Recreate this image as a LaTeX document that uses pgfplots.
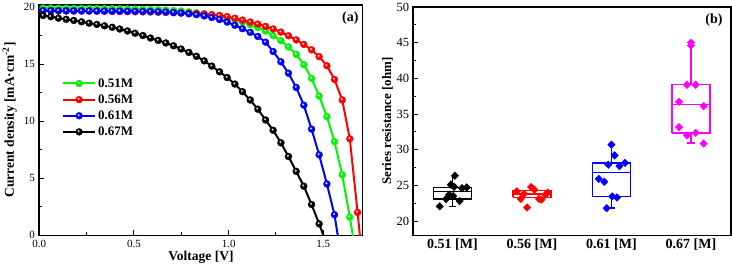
\documentclass[border=0pt]{standalone}
\usepackage{pgfplots}
\pgfplotsset{compat=1.18}
\usepackage{fontspec}
\setmainfont{Liberation Serif}
\definecolor{cgreen}{RGB}{0,245,0}
\definecolor{cred}{RGB}{255,0,0}
\definecolor{cblue}{RGB}{0,0,255}
\definecolor{cmag}{RGB}{255,0,255}
\pgfdeclareplotmark{hball}{%
  \pgfpathcircle{\pgfpointorigin}{\pgfplotmarksize}%
  \pgfusepathqfillstroke
  \begin{pgfscope}%
  \pgfsetfillcolor{white}%
  \pgfsetfillopacity{0.85}%
  \pgfpathcircle{\pgfpoint{-0.15\pgfplotmarksize}{0.2\pgfplotmarksize}}{0.33\pgfplotmarksize}%
  \pgfusepathqfill
  \end{pgfscope}%
}
\begin{document}
\begin{tikzpicture}
\path[use as bounding box] (-39.3pt,-33.7pt) rectangle (692.7pt,235.3pt);
\begin{axis}[
  at={(0pt,0pt)}, anchor=south west, scale only axis,
  width=323.4pt, height=230.6pt,
  xmin=0, xmax=1.708, ymin=0, ymax=20.2,
  xtick={0,0.5,1,1.5}, ytick={0,5,10,15,20},
  minor x tick num=1, minor y tick num=1,
  xtick pos=bottom, ytick pos=left, tick align=inside,
  major tick length=5pt, minor tick length=3pt,
  every tick/.style={black, line width=1pt},
  axis line style={line width=1.6pt},
  clip marker paths=true,
  /pgf/number format/assume math mode=true,
  xticklabel style={/pgf/number format/fixed, /pgf/number format/fixed zerofill, /pgf/number format/precision=1, yshift=-1.5pt},
  yticklabel style={xshift=-1pt},
  tick label style={font=\fontsize{11}{13}\selectfont},
  label style={font=\bfseries\fontsize{13.5}{15}\selectfont},
  xlabel={Voltage [V]},
  ylabel={Current density [mA·cm\textsuperscript{-2}]},
  xlabel shift=-3.5pt,
  legend style={draw=none, fill=none, at={(0.07,0.69)}, anchor=north west,
    font=\bfseries\fontsize{13}{15}\selectfont, row sep=2pt, inner sep=0pt},
  legend cell align=left,
  legend image code/.code={\draw[mark repeat=2,mark phase=2,#1] plot coordinates {(0pt,0pt) (16pt,0pt) (32pt,0pt)};},
  every axis plot/.append style={line width=2pt, mark=hball, mark size=3.5pt, mark options={line width=0.3pt}},
]
\addplot[cgreen] coordinates {
(0.020,19.90) (0.061,19.90) (0.101,19.89) (0.142,19.89) (0.182,19.88) (0.223,19.88) (0.263,19.87) (0.304,19.87) (0.344,19.86) (0.385,19.85)
(0.425,19.84) (0.466,19.83) (0.506,19.82) (0.547,19.80) (0.587,19.78) (0.628,19.76) (0.668,19.73) (0.709,19.69) (0.749,19.64) (0.790,19.58)
(0.830,19.50) (0.871,19.42) (0.911,19.32) (0.952,19.20) (0.992,19.05) (1.033,18.88) (1.073,18.68) (1.114,18.45) (1.154,18.20) (1.195,17.90)
(1.235,17.50) (1.276,17.05) (1.316,16.50) (1.357,15.85) (1.397,14.95) (1.438,13.75) (1.478,12.20) (1.519,10.40) (1.559,8.20) (1.600,5.30)
(1.640,1.60) (1.681,-2.50)};
\addlegendentry{0.51M}
\addplot[cred] coordinates {
(0.020,19.66) (0.061,19.66) (0.101,19.65) (0.142,19.65) (0.182,19.64) (0.223,19.64) (0.263,19.63) (0.304,19.63) (0.344,19.62) (0.385,19.61)
(0.425,19.60) (0.466,19.59) (0.506,19.58) (0.547,19.57) (0.587,19.56) (0.628,19.54) (0.668,19.52) (0.709,19.50) (0.749,19.48) (0.790,19.45)
(0.830,19.42) (0.871,19.38) (0.911,19.33) (0.952,19.26) (0.992,19.16) (1.033,19.02) (1.073,18.85) (1.114,18.68) (1.154,18.50) (1.195,18.30)
(1.235,18.08) (1.276,17.80) (1.316,17.48) (1.357,17.12) (1.397,16.72) (1.438,16.25) (1.478,15.65) (1.519,14.85) (1.559,13.65) (1.600,11.85)
(1.640,8.45) (1.681,2.00) (1.721,-4.50)};
\addlegendentry{0.56M}
\addplot[cblue] coordinates {
(0.020,19.68) (0.061,19.68) (0.101,19.67) (0.142,19.67) (0.182,19.67) (0.223,19.66) (0.263,19.66) (0.304,19.65) (0.344,19.65) (0.385,19.64)
(0.425,19.64) (0.466,19.63) (0.506,19.62) (0.547,19.61) (0.587,19.60) (0.628,19.58) (0.668,19.56) (0.709,19.52) (0.749,19.47) (0.790,19.40)
(0.830,19.32) (0.871,19.22) (0.911,19.08) (0.952,18.90) (0.992,18.68) (1.033,18.40) (1.073,18.10) (1.114,17.78) (1.154,17.42) (1.195,16.92)
(1.235,16.10) (1.276,15.20) (1.316,14.20) (1.357,12.95) (1.397,11.40) (1.438,9.30) (1.478,7.05) (1.519,4.50) (1.559,1.80) (1.600,-2.50)};
\addlegendentry{0.61M}
\addplot[black] coordinates {
(0.020,19.25) (0.061,19.15) (0.101,19.02) (0.142,18.92) (0.182,18.82) (0.223,18.70) (0.263,18.58) (0.304,18.47) (0.344,18.35) (0.385,18.22)
(0.425,18.07) (0.466,17.90) (0.506,17.70) (0.547,17.50) (0.587,17.28) (0.628,17.07) (0.668,16.85) (0.709,16.60) (0.749,16.32) (0.790,16.02)
(0.830,15.68) (0.871,15.28) (0.911,14.82) (0.952,14.32) (0.992,13.82) (1.033,13.25) (1.073,12.58) (1.114,11.85) (1.154,11.05) (1.195,10.10)
(1.235,9.20) (1.276,8.10) (1.316,6.90) (1.357,5.60) (1.397,4.30) (1.438,2.70) (1.478,1.00) (1.519,-0.80)};
\addlegendentry{0.67M}
\node[anchor=north east, inner sep=0pt, font=\bfseries\fontsize{14}{16}\selectfont] at (rel axis cs:1,1) [xshift=-4pt, yshift=-7pt] {(a)};
\end{axis}
\begin{axis}[
  at={(373.4pt,0pt)}, anchor=south west, scale only axis,
  width=318pt, height=228.3pt,
  xmin=0.5, xmax=4.5, ymin=18, ymax=50,
  xtick={1,2,3,4},
  xticklabels={0.51 [M],0.56 [M],0.61 [M],0.67 [M]},
  ytick={20,25,30,35,40,45,50},
  minor y tick num=1,
  ytick pos=left, tick align=inside,
  major tick length=5pt, minor tick length=3pt,
  every tick/.style={black, line width=1pt},
  xtick style={draw=none},
  axis line style={line width=1.6pt},
  unbounded coords=jump,
  /pgf/number format/assume math mode=true,
  yticklabel style={font=\fontsize{12.5}{14}\selectfont},
  xticklabel style={font=\bfseries\fontsize{14}{16}\selectfont},
  label style={font=\bfseries\fontsize{13}{15}\selectfont},
  ylabel={Series resistance [ohm]},
  ylabel shift=-3pt,
]
% boxes: box, median, whiskers, caps
\addplot[black, line width=1.4pt, mark=none] coordinates {
(0.76,23.08) (1.24,23.08) (1.24,24.72) (0.76,24.72) (0.76,23.08) (nan,nan)
(0.76,24.16) (1.24,24.16) (nan,nan)
(1,23.08) (1,22.06) (nan,nan) (0.955,22.06) (1.045,22.06) (nan,nan)
(1,24.72) (1,26.3)};
\addplot[cred, line width=1.4pt, mark=none] coordinates {
(1.76,23.32) (2.24,23.32) (2.24,24.25) (1.76,24.25) (1.76,23.32) (nan,nan)
(1.76,23.79) (2.24,23.79)};
\addplot[cblue, line width=1.4pt, mark=none] coordinates {
(2.76,23.46) (3.24,23.46) (3.24,28.13) (2.76,28.13) (2.76,23.46) (nan,nan)
(2.76,26.8) (3.24,26.8) (nan,nan)
(3,23.46) (3,21.8) (nan,nan) (2.955,21.8) (3.045,21.8) (nan,nan)
(3,28.13) (3,30.7)};
\addplot[cmag, line width=1.4pt, mark=none] coordinates {
(3.76,32.35) (4.24,32.35) (4.24,39.12) (3.76,39.12) (3.76,32.35) (nan,nan)
(3.76,36.35) (4.24,36.35) (nan,nan)
(4,32.35) (4,30.95) (nan,nan) (3.955,30.95) (4.045,30.95) (nan,nan)
(4,39.12) (4,45.0)};
\addplot[only marks, black, mark=diamond*, mark size=3.8pt, mark options={xscale=1.3}] coordinates {
(0.84,22.06) (0.92,23.08) (0.96,23.70) (1.01,23.50) (0.98,25.10) (1.03,26.35) (1.02,24.80) (1.09,22.80) (1.18,24.70) (1.12,24.60)};
\addplot[only marks, cred, mark=diamond*, mark size=3.8pt, mark options={xscale=1.3}] coordinates {
(1.94,21.90) (1.86,23.10) (1.81,24.16) (1.99,24.77) (2.03,24.40) (2.09,23.10) (2.12,23.00) (2.17,23.70) (2.20,24.00) (1.90,23.80)};
\addplot[only marks, cblue, mark=diamond*, mark size=3.8pt, mark options={xscale=1.3}] coordinates {
(3.00,30.70) (3.04,29.20) (2.96,27.90) (3.10,27.70) (3.17,28.15) (2.84,25.90) (2.91,25.50) (3.01,23.46) (3.07,23.30) (2.94,21.80)};
\addplot[only marks, cmag, mark=diamond*, mark size=3.8pt, mark options={xscale=1.3}] coordinates {
(4.00,45.00) (4.00,44.60) (3.95,39.10) (4.06,39.10) (3.85,36.70) (4.16,36.10) (3.85,33.15) (3.95,32.00) (4.06,32.36) (4.16,30.86)};
\node[anchor=north east, inner sep=0pt, font=\bfseries\fontsize{14}{16}\selectfont] at (rel axis cs:1,1) [xshift=-8pt, yshift=-7pt] {(b)};
\end{axis}
\end{tikzpicture}
\end{document}
